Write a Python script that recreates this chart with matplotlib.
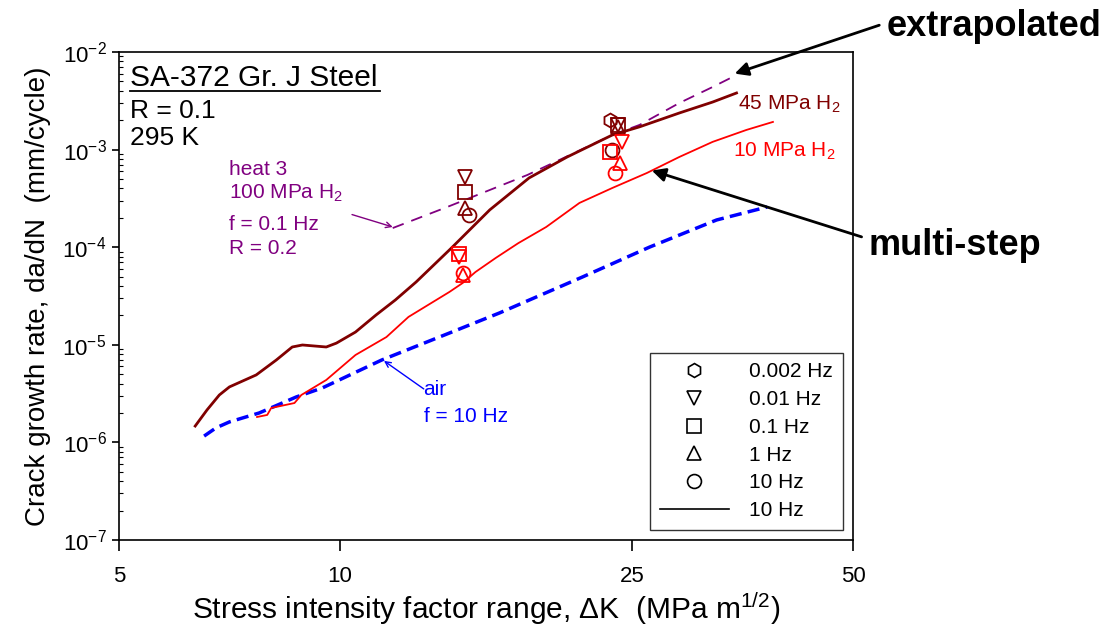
import numpy as np
import matplotlib
matplotlib.use("Agg")
import matplotlib.pyplot as plt
from matplotlib.lines import Line2D

plt.rcParams['font.family'] = ['Liberation Sans', 'DejaVu Sans']
plt.rcParams['mathtext.default'] = 'regular'

# 45 MPa H2, 10 Hz (multi-step)
dk_45 = [6.35, 6.59, 6.85, 7.07, 7.69, 8.19, 8.61, 8.89, 9.58, 9.89, 10.5, 11.2,
         11.9, 12.7, 14.19, 16.0, 18.1, 20.4, 23.5, 25.6, 29.0, 32.2, 34.7]
dadn_45 = [1.47e-6, 2.15e-6, 3.06e-6, 3.70e-6, 4.91e-6, 6.98e-6, 9.49e-6, 9.95e-6,
           9.49e-6, 1.04e-5, 1.35e-5, 2.02e-5, 2.88e-5, 4.40e-5, 9.82e-5, 2.41e-4,
           5.12e-4, 8.4e-4, 1.41e-3, 1.71e-3, 2.37e-3, 3.07e-3, 3.80e-3]

# 10 MPa H2, 10 Hz
dk_10 = [7.71, 7.96, 8.06, 8.67, 8.86, 9.58, 10.5, 11.57, 12.4, 14.1, 14.7, 15.3,
         16.3, 17.5, 19.1, 21.2, 23.5, 26.2, 29.0, 32.2, 35.8, 38.9]
dadn_10 = [1.82e-6, 1.91e-6, 2.25e-6, 2.53e-6, 3.06e-6, 4.36e-6, 7.86e-6, 1.20e-5,
           1.93e-5, 3.48e-5, 4.30e-5, 5.57e-5, 7.75e-5, 1.10e-4, 1.61e-4, 2.84e-4,
           4.04e-4, 5.76e-4, 8.4e-4, 1.20e-3, 1.59e-3, 1.92e-3]

# air, f = 10 Hz
dk_air = [6.53, 6.78, 7.07, 7.76, 8.72, 9.46, 11.4, 14.1, 16.5, 21.4, 26.4, 32.6, 38.2]
dadn_air = [1.16e-6, 1.41e-6, 1.62e-6, 2.00e-6, 2.92e-6, 3.61e-6, 6.98e-6, 1.32e-5,
            2.12e-5, 4.95e-5, 1.00e-4, 1.90e-4, 2.58e-4]

# heat 3, 100 MPa H2 (extrapolated)
dk_100 = [11.8, 14.0, 18.0, 19.9, 23.5, 25.6, 29.0, 32.2, 34.7]
dadn_100 = [1.57e-4, 2.58e-4, 5.49e-4, 7.82e-4, 1.41e-3, 1.79e-3, 3.0e-3, 4.38e-3, 5.81e-3]

# frequency points: (marker, dK, da/dN)
freq_labels = ['0.002 Hz', '0.01 Hz', '0.1 Hz', '1 Hz', '10 Hz']
freq_markers = ['h', 'v', 's', '^', 'o']
pts_45 = [('v', 14.8, 5.24e-4), ('s', 14.8, 3.68e-4), ('^', 14.8, 2.52e-4), ('o', 15.0, 2.14e-4),
          ('h', 23.3, 2.01e-3), ('s', 23.9, 1.79e-3), ('v', 23.9, 1.79e-3), ('^', 23.9, 1.70e-3),
          ('o', 23.5, 9.9e-4)]
pts_10 = [('s', 14.55, 8.5e-5), ('v', 14.55, 7.9e-5), ('o', 14.7, 5.44e-5), ('^', 14.7, 5.19e-5),
          ('v', 24.2, 1.20e-3), ('s', 23.3, 9.45e-4), ('^', 24.05, 7.29e-4), ('o', 23.7, 5.76e-4)]

c45 = '#800000'
c10 = '#ff0000'
cair = '#0000ff'
c100 = '#800080'

fig = plt.figure(figsize=(11.06, 6.3), dpi=100)
ax = fig.add_axes([0.1076, 0.1429, 0.6636, 0.7746])

ax.plot(dk_air, dadn_air, color=cair, lw=2.5, dashes=[3.5, 1.8])
ax.plot(dk_100, dadn_100, color=c100, lw=1.3, dashes=[6.5, 4.5])
ax.plot(dk_10, dadn_10, color=c10, lw=1.3)
ax.plot(dk_45, dadn_45, color=c45, lw=2.0)

for m, x, y in pts_45:
    ax.plot(x, y, marker=m, ms=10, mfc='none', mec=c45, mew=1.3, ls='none')
for m, x, y in pts_10:
    ax.plot(x, y, marker=m, ms=10, mfc='none', mec=c10, mew=1.3, ls='none')

ax.set_xscale('log')
ax.set_yscale('log')
ax.set_xlim(5, 50)
ax.set_ylim(1e-7, 1e-2)
ax.set_xticks([5, 10, 25, 50])
ax.set_xticklabels(['5', '10', '25', '50'])
ax.xaxis.set_minor_locator(matplotlib.ticker.NullLocator())
ax.yaxis.set_major_locator(matplotlib.ticker.LogLocator(base=10, numticks=10))
ax.yaxis.set_minor_locator(matplotlib.ticker.LogLocator(base=10, subs=np.arange(2, 10), numticks=10))
ax.yaxis.set_minor_formatter(matplotlib.ticker.NullFormatter())
ax.tick_params(axis='x', which='major', direction='out', length=8, width=1.2, labelsize=16, pad=11)
ax.tick_params(axis='y', which='major', direction='out', length=5, width=1.2, labelsize=16, pad=4)
ax.tick_params(axis='y', which='minor', direction='in', length=3, width=0.8)
for s in ax.spines.values():
    s.set_linewidth(1.2)

ax.set_xlabel(r'Stress intensity factor range, $\Delta$K  (MPa m$^{1/2}$)', fontsize=21.5, labelpad=2)
ax.set_ylabel('Crack growth rate, da/dN  (mm/cycle)', fontsize=20, labelpad=8)

# upper-left labels
ax.text(0.015, 0.930, 'SA-372 Gr. J Steel', transform=ax.transAxes, fontsize=21.5, va='baseline')
ax.plot([0.015, 0.355], [0.921, 0.921], transform=ax.transAxes, color='black', lw=1.3)
ax.text(0.015, 0.865, 'R = 0.1', transform=ax.transAxes, fontsize=19, va='baseline')
ax.text(0.015, 0.809, '295 K', transform=ax.transAxes, fontsize=19, va='baseline')

for txt, yb in [('heat 3', 0.748), ('100 MPa H$_2$', 0.699), ('f = 0.1 Hz', 0.635), ('R = 0.2', 0.586)]:
    ax.text(0.150, yb, txt, transform=ax.transAxes, fontsize=15, color=c100, va='baseline')
ax.annotate('', xy=(11.9, 1.58e-4), xytext=(10.3, 2.2e-4),
            arrowprops=dict(arrowstyle='->', color=c100, lw=1.0))

ax.text(0.415, 0.297, 'air', transform=ax.transAxes, fontsize=15, color=cair, va='baseline')
ax.text(0.415, 0.242, 'f = 10 Hz', transform=ax.transAxes, fontsize=15, color=cair, va='baseline')
ax.annotate('', xy=(11.4, 7.1e-6), xytext=(13.1, 3.4e-6),
            arrowprops=dict(arrowstyle='->', color=cair, lw=1.0))

ax.text(0.843, 0.881, '45 MPa H$_2$', transform=ax.transAxes, fontsize=15, color=c45, va='baseline')
ax.text(0.836, 0.785, '10 MPa H$_2$', transform=ax.transAxes, fontsize=15, color=c10, va='baseline')

# outside annotations
fig.text(0.802, 0.943, 'extrapolated', fontsize=26, fontweight='bold', va='baseline')
fig.text(0.785, 0.595, 'multi-step', fontsize=26, fontweight='bold', va='baseline')
ax.annotate('', xy=(34.5, 6.0e-3), xytext=(0.795, 0.96), textcoords='figure fraction',
            arrowprops=dict(arrowstyle='-|>', color='black', lw=2, mutation_scale=20,
                            shrinkA=0, shrinkB=0), annotation_clip=False)
ax.annotate('', xy=(26.6, 6.1e-4), xytext=(0.779, 0.624), textcoords='figure fraction',
            arrowprops=dict(arrowstyle='-|>', color='black', lw=2, mutation_scale=20,
                            shrinkA=0, shrinkB=0), annotation_clip=False)

handles = [Line2D([], [], marker=m, ms=10, mfc='none', mec='black', mew=1.2, ls='none', color='black')
           for m in freq_markers]
handles.append(Line2D([], [], color='black', lw=1.2))
leg = ax.legend(handles, freq_labels + ['10 Hz'], loc='lower right', fontsize=15,
                frameon=True, fancybox=False, edgecolor='black', handlelength=3.3,
                labelspacing=0.42, borderaxespad=0.5, handletextpad=1.0, borderpad=0.45)
leg.get_frame().set_linewidth(1.0)

fig.savefig('out.png', dpi=100)
